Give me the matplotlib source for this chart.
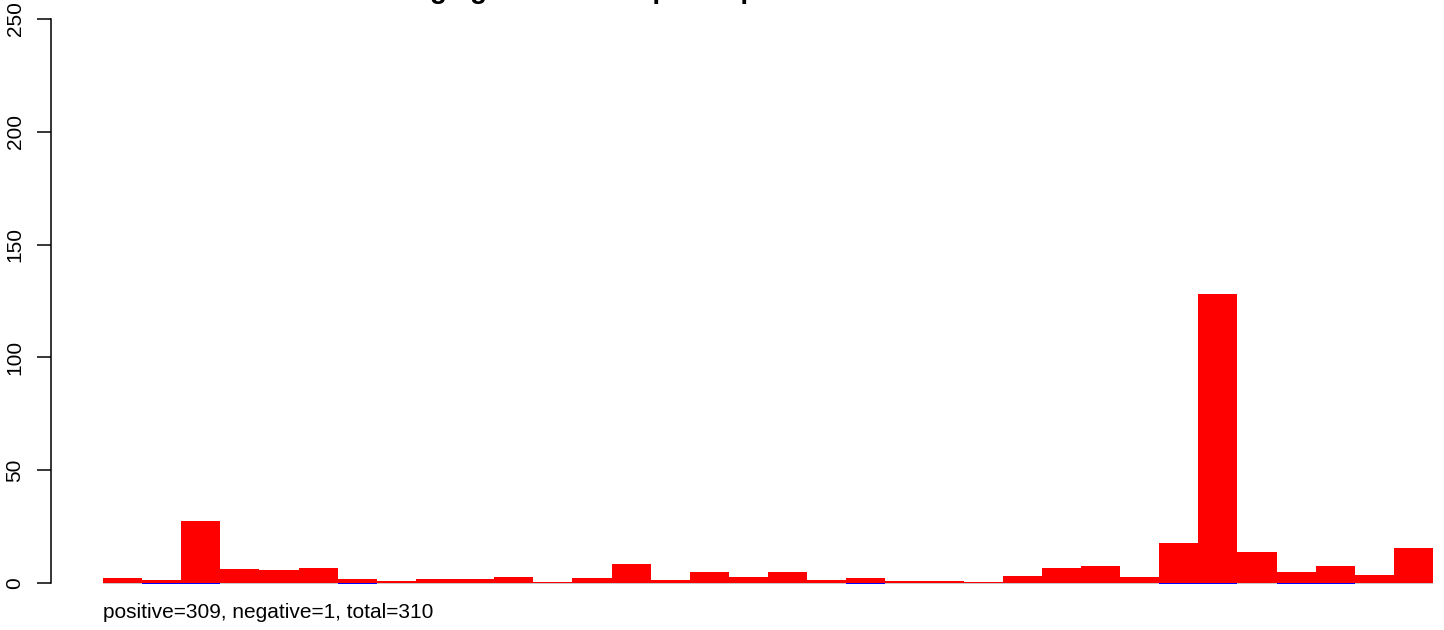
import numpy as np
import matplotlib
matplotlib.use('Agg')
import matplotlib.pyplot as plt

plt.rcParams['font.family'] = ['Liberation Sans', 'DejaVu Sans']

# bar heights, left to right
pos_vals = [2.1, 1.2, 27.7, 6.1, 5.6, 6.5, 1.6, 0.8, 1.7, 1.7,
            2.6, 0.4, 2.2, 8.4, 1.3, 4.9, 2.6, 4.9, 1.3, 2.2,
            0.9, 0.9, 0.4, 3.1, 6.6, 7.5, 2.6, 17.7, 128.3, 13.7,
            4.9, 7.5, 3.5, 15.5]
# tiny negative parts (the thin blue strokes under the baseline)
neg_vals = [0, -0.4, -0.4, 0, 0, 0, -0.4, 0, 0, 0,
            0, 0, 0, 0, 0, 0, 0, 0, 0, -0.4,
            0, 0, 0, 0, 0, 0, 0, -0.4, -0.4, 0,
            -0.4, -0.4, 0, 0]
yticks = [0, 50, 100, 150, 200, 250]
title = 'Log2 gene count top 10% per site'
note = 'positive=309, negative=1, total=310'

W, H = 1444, 630
fig = plt.figure(figsize=(W / 100, H / 100), dpi=100)
ax = fig.add_axes([51 / W, 1 - 605.6 / H, (W - 51) / W, 609.2 / H])

x = np.arange(len(pos_vals))
ax.hlines(0, 0, len(pos_vals), color='#bebebe', lw=1.2, zorder=1)
ax.bar(x, pos_vals, width=1.0, align='edge', color='#ff0000', lw=0, zorder=2)
ax.bar(x, neg_vals, width=1.0, align='edge', color='#0000ff', lw=0, zorder=3)

ax.set_xlim(-1.329, 34.28)
ax.set_ylim(-10, 260)
for s in ['top', 'right', 'bottom']:
    ax.spines[s].set_visible(False)
ax.spines['left'].set_bounds(0, 250)
ax.spines['left'].set_linewidth(1.1)
ax.set_xticks([])
ax.set_yticks(yticks)
ax.set_yticklabels([str(t) for t in yticks], rotation=90, va='center')
ax.tick_params(axis='y', length=10, width=1.1, pad=9, labelsize=15)

# title sits almost entirely above the canvas, only descenders show
fig.text(396 / W, 1 + 2 / H, title, fontsize=20, fontweight='bold',
         ha='left', va='baseline')
fig.text(103 / W, 1 - 618 / H, note, fontsize=15, ha='left', va='baseline')

fig.savefig('out.png', dpi=100)
